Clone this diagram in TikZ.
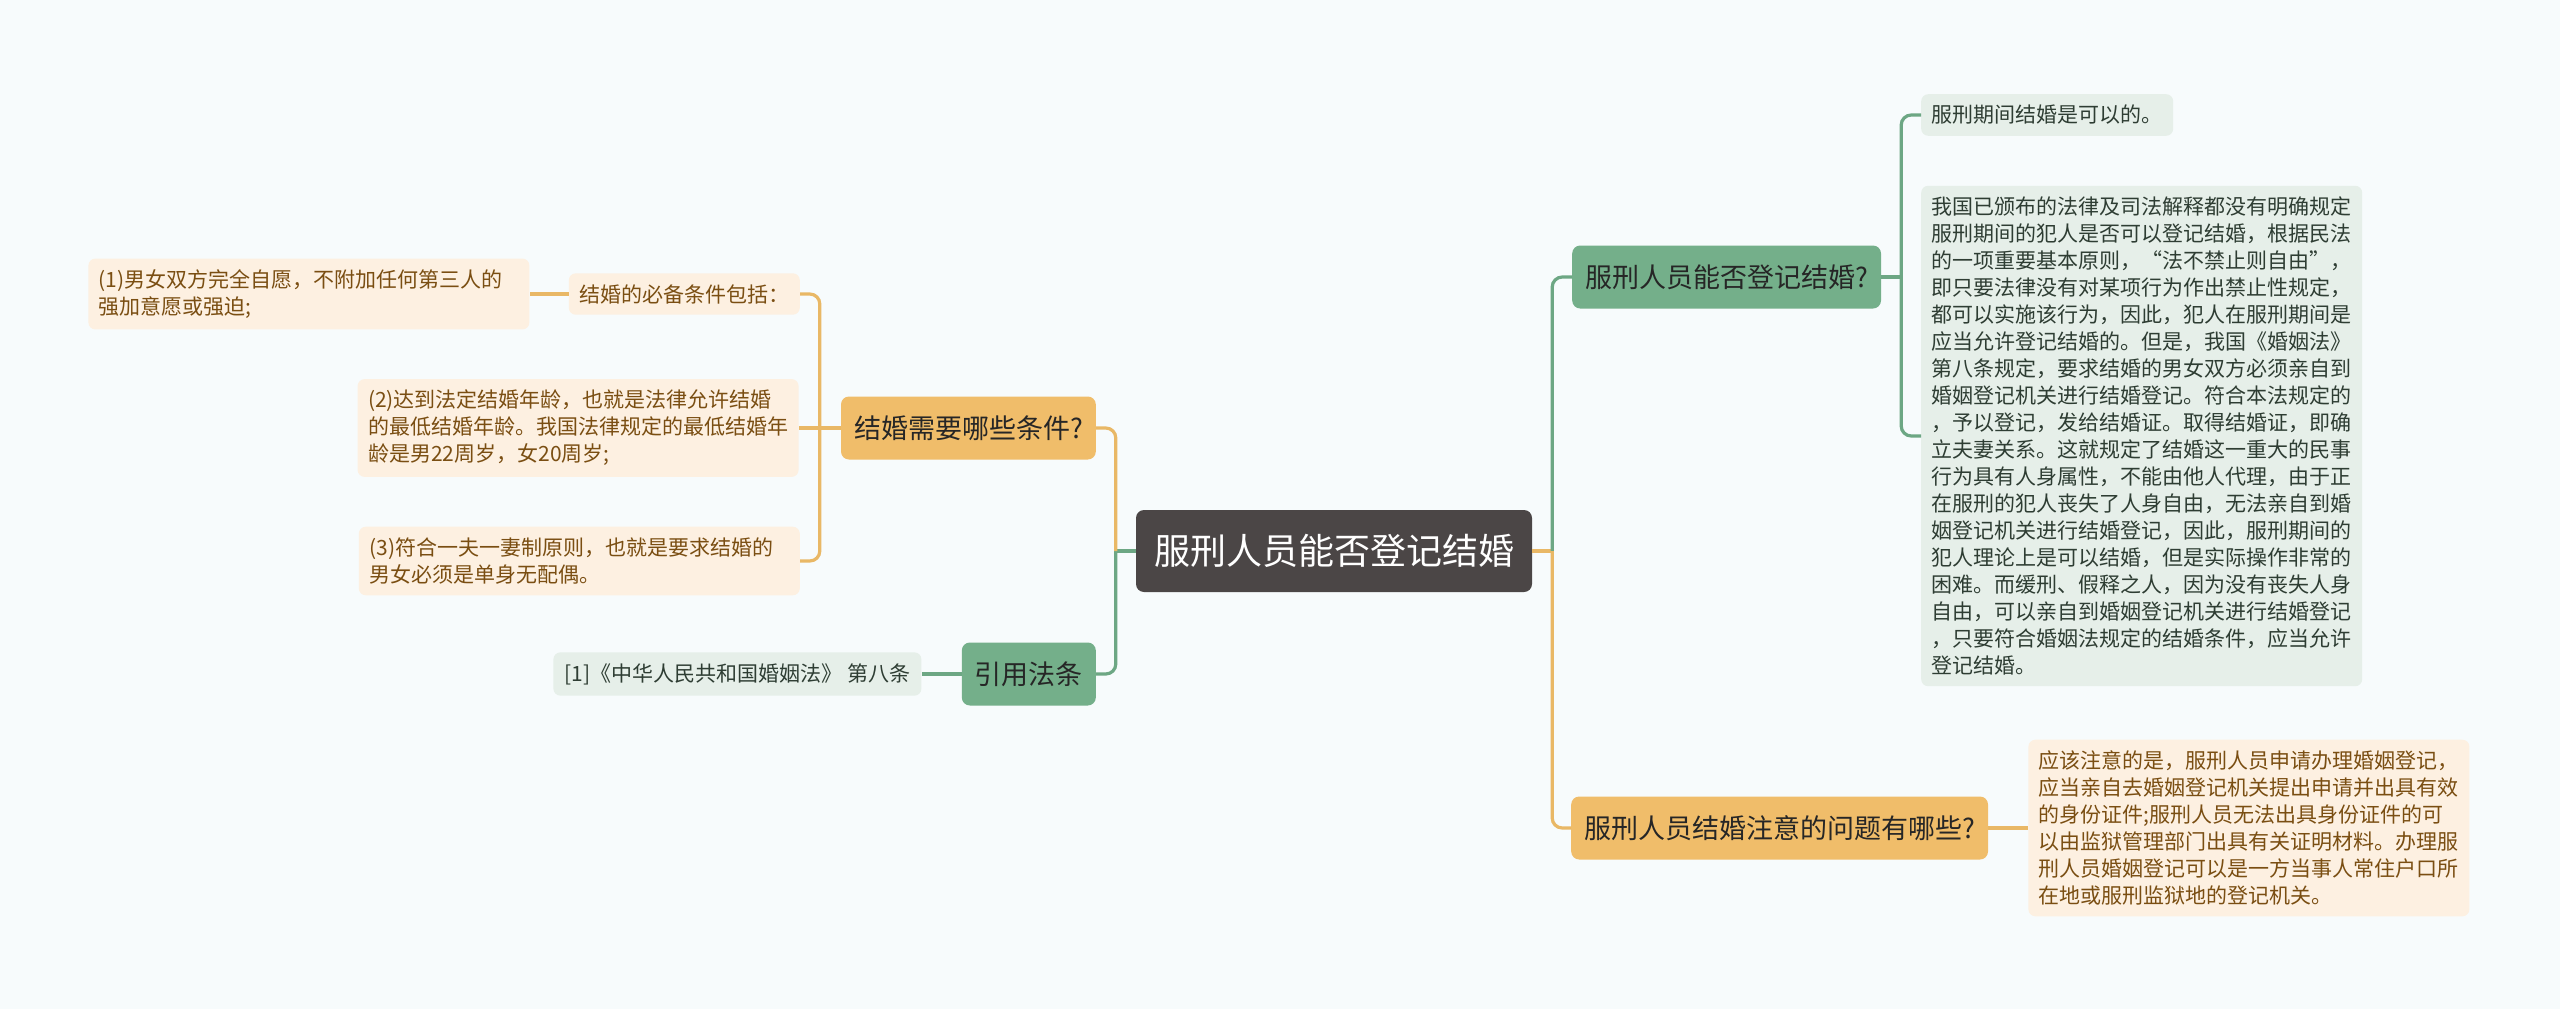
\documentclass[tikz,border=0pt]{standalone}
\usepackage{fontspec}
\setmainfont{Noto Sans CJK SC}
\usepackage{tikz}
\usetikzlibrary{positioning}
\usepackage{xcolor}

\definecolor{bgcol}{HTML}{F7FBFC}
\definecolor{rootfill}{HTML}{4B4646}
\definecolor{orfill}{HTML}{F0BD6A}
\definecolor{grfill}{HTML}{74AF8A}
\definecolor{orleaf}{HTML}{FDF0E1}
\definecolor{grleaf}{HTML}{E6EFE9}
\definecolor{orline}{HTML}{E9B866}
\definecolor{grline}{HTML}{6DA784}
\definecolor{ortext}{HTML}{7A4E12}
\definecolor{grtext}{HTML}{2E3D33}
\definecolor{maintext}{HTML}{262626}

\begin{document}
\begin{tikzpicture}[
    x=1pt, y=-1pt,
    root/.style={rectangle, rounded corners=8pt, fill=rootfill, text=white, inner xsep=18pt, minimum width=396pt, minimum height=82pt, font=\fontsize{36}{44}\selectfont},
    obranch/.style={rectangle, rounded corners=8pt, fill=orfill, text=maintext, inner xsep=13pt, minimum height=63pt, font=\fontsize{27}{32}\selectfont},
    gbranch/.style={obranch, fill=grfill},
    oleaf/.style={rectangle, rounded corners=7pt, fill=orleaf, text=ortext, inner xsep=10.5pt, inner ysep=11pt, align=left, font=\fontsize{21}{27}\selectfont},
    gleaf/.style={oleaf, fill=grleaf, text=grtext},
    longtext/.style={text width=420pt},
    olink/.style={draw=orline, line width=3.2pt, rounded corners=10pt},
    glink/.style={olink, draw=grline}
]
    \fill[bgcol] (0,0) rectangle (2560,1009);
    \useasboundingbox (0,0) rectangle (2560,1009);

    % Components
    \node[root] (root) at (1334,551) {服刑人员能否登记结婚};

    \node[obranch, anchor=east] (cond) at (1096,428) {结婚需要哪些条件?};
    \node[gbranch, anchor=east] (cite) at (1096,674) {引用法条};
    \node[oleaf, anchor=east] (must) at (800,294) {结婚的必备条件包括：};
    \node[oleaf, longtext, left=39pt of must] (cond1) {(1)男女双方完全自愿，不附加任何第三人的\\强加意愿或强迫;};
    \node[oleaf, longtext, left=42pt of cond] (cond2) {(2)达到法定结婚年龄，也就是法律允许结婚\\的最低结婚年龄。我国法律规定的最低结婚年\\龄是男22周岁，女20周岁;};
    \node[oleaf, longtext, anchor=east] (cond3) at (800,561) {(3)符合一夫一妻制原则，也就是要求结婚的\\男女必须是单身无配偶。};
    \node[gleaf, minimum width=368pt, left=40pt of cite] (law) {[1]《中华人民共和国婚姻法》 第八条};

    \node[gbranch, anchor=west] (canreg) at (1572,277) {服刑人员能否登记结婚?};
    \node[obranch, anchor=west] (notice) at (1571,828) {服刑人员结婚注意的问题有哪些?};
    \node[gleaf, anchor=west] (ok) at (1921,115) {服刑期间结婚是可以的。};
    \node[gleaf, longtext, anchor=west] (reason) at (1921,436) {我国已颁布的法律及司法解释都没有明确规定\\服刑期间的犯人是否可以登记结婚，根据民法\\的一项重要基本原则，“法不禁止则自由”，\\即只要法律没有对某项行为作出禁止性规定，\\都可以实施该行为，因此，犯人在服刑期间是\\应当允许登记结婚的。但是，我国《婚姻法》\\第八条规定，要求结婚的男女双方必须亲自到\\婚姻登记机关进行结婚登记。符合本法规定的\\，予以登记，发给结婚证。取得结婚证，即确\\立夫妻关系。这就规定了结婚这一重大的民事\\行为具有人身属性，不能由他人代理，由于正\\在服刑的犯人丧失了人身自由，无法亲自到婚\\姻登记机关进行结婚登记，因此，服刑期间的\\犯人理论上是可以结婚，但是实际操作非常的\\困难。而缓刑、假释之人，因为没有丧失人身\\自由，可以亲自到婚姻登记机关进行结婚登记\\，只要符合婚姻法规定的结婚条件，应当允许\\登记结婚。};
    \node[oleaf, longtext, right=40pt of notice] (advice) {应该注意的是，服刑人员申请办理婚姻登记，\\应当亲自去婚姻登记机关提出申请并出具有效\\的身份证件;服刑人员无法出具身份证件的可\\以由监狱管理部门出具有关证明材料。办理服\\刑人员婚姻登记可以是一方当事人常住户口所\\在地或服刑监狱地的登记机关。};

    % Connections
    \coordinate (lj) at ([xshift=-20pt]root.west);
    \coordinate (rj) at ([xshift=20pt]root.east);
    \coordinate (cj) at ([xshift=-21pt]cond.west);
    \coordinate (bj) at ([xshift=20pt]canreg.east);

    \draw[glink] (root.west) -- (lj);
    \draw[glink] (lj) |- (cite.east);
    \draw[olink] (lj) |- (cond.east);
    \draw[olink] (cond.west) -- (cj);
    \draw[olink] (cj) |- (must.east);
    \draw[olink] (cj) -- (cond2.east);
    \draw[olink] (cj) |- (cond3.east);
    \draw[olink] (must.west) -- (cond1.east);
    \draw[glink] (cite.west) -- (law.east);

    \draw[olink] (root.east) -- (rj);
    \draw[glink] (rj) |- (canreg.west);
    \draw[olink] (rj) |- (notice.west);
    \draw[glink] (canreg.east) -- (bj);
    \draw[glink] (bj) |- (ok.west);
    \draw[glink] (bj) |- (reason.west);
    \draw[olink] (notice.east) -- (advice.west);

\end{tikzpicture}
\end{document}
